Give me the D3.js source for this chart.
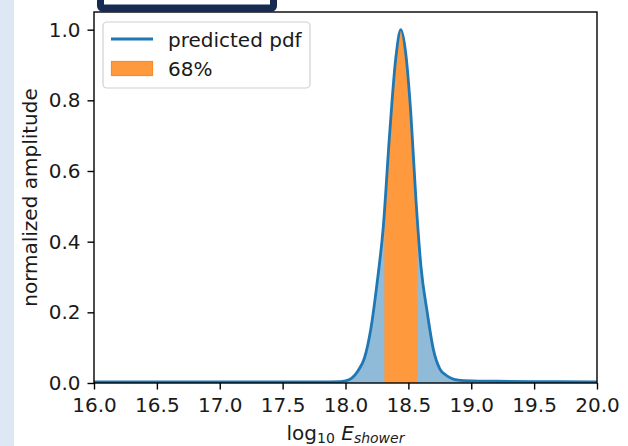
<!DOCTYPE html>
<html><head><meta charset="utf-8">
<script src="https://cdn.jsdelivr.net/npm/d3@7"></script>
<style>html,body{margin:0;padding:0;background:#fff;}svg{display:block;font-family:"DejaVu Sans",sans-serif;}</style>
</head><body>
<svg id="c" width="628" height="446"></svg>
<script>
// data
const energy = [16.0,16.5,17.0,17.5,17.8,17.95,18.0,18.05,18.1,18.15,18.2,18.25,18.3,18.35,18.4,18.44,18.48,18.52,18.56,18.6,18.65,18.7,18.75,18.8,18.85,18.9,19.0,19.2,19.5,20.0];
const amplitude = [0.003,0.003,0.003,0.003,0.003,0.004,0.006,0.014,0.035,0.07,0.15,0.28,0.44,0.70,0.92,1.0,0.93,0.76,0.52,0.33,0.20,0.093,0.04,0.022,0.012,0.008,0.006,0.005,0.004,0.003];
const interval68 = [18.309, 18.571];
const xTicks = [16.0,16.5,17.0,17.5,18.0,18.5,19.0,19.5,20.0];
const yTicks = [0.0,0.2,0.4,0.6,0.8,1.0];
const legendLabels = ["predicted pdf","68%"];

const FS = "20px";
const svg = d3.select("#c");
const L=94, R=597, T=12, B=383;
const x = d3.scaleLinear().domain([16,20]).range([L,R]);
const y = d3.scaleLinear().domain([0,1.05]).range([B,T]);
const pts = energy.map((e,i)=>({e, a: amplitude[i]}));

// background strip
svg.append("rect").attr("x",0).attr("y",0).attr("width",14).attr("height",446).attr("fill","#dde8f4");
// top dark box
svg.append("rect").attr("x",100.5).attr("y",-12).attr("width",173).attr("height",20).attr("rx",2)
  .attr("fill","#fff").attr("stroke","#172a52").attr("stroke-width",7);

const defs = svg.append("defs");
defs.append("clipPath").attr("id","band").append("rect")
  .attr("x",x(interval68[0])).attr("y",T).attr("width",x(interval68[1])-x(interval68[0])).attr("height",B-T);
defs.append("clipPath").attr("id","plot").append("rect").attr("x",L).attr("y",T).attr("width",R-L).attr("height",B-T);

const area = d3.area().x(d=>x(d.e)).y0(y(0)).y1(d=>y(d.a)).curve(d3.curveMonotoneX);
const line = d3.line().x(d=>x(d.e)).y(d=>y(d.a)).curve(d3.curveMonotoneX);

const g = svg.append("g").attr("clip-path","url(#plot)");
g.append("path").datum(pts).attr("d",area).attr("fill","#1f77b4").attr("fill-opacity",0.5);
const gb = g.append("g").attr("clip-path","url(#band)");
gb.append("path").datum(pts).attr("d",area).attr("fill","#ff993e");
g.append("path").datum(pts).attr("d",line).attr("fill","none").attr("stroke","#1f77b4").attr("stroke-width",2.8);

// axes
const xAxis = d3.axisBottom(x).tickValues(xTicks).tickFormat(d3.format(".1f")).tickSize(6.5).tickPadding(8);
const yAxis = d3.axisLeft(y).tickValues(yTicks).tickFormat(d3.format(".1f")).tickSize(6.5).tickPadding(7);
const gx = svg.append("g").attr("transform",`translate(0,${B})`).call(xAxis);
const gy = svg.append("g").attr("transform",`translate(${L},0)`).call(yAxis);
[gx,gy].forEach(a=>{
  a.select(".domain").remove();
  a.selectAll("line").attr("stroke","#000").attr("stroke-width",1.4);
  a.selectAll("text").attr("fill","#1a1a1a").style("font-size",FS).style("font-family","DejaVu Sans");
});
svg.append("rect").attr("x",L).attr("y",T).attr("width",R-L).attr("height",B-T)
  .attr("fill","none").attr("stroke","#000").attr("stroke-width",1.4);

// labels
svg.append("text").attr("transform",`translate(37,${(T+B)/2}) rotate(-90)`).attr("text-anchor","middle")
  .style("font-size",FS).attr("fill","#1a1a1a").text("normalized amplitude");
const xl = svg.append("text").attr("x",(L+R)/2).attr("y",440).attr("text-anchor","middle")
  .style("font-size",FS).attr("fill","#1a1a1a");
xl.append("tspan").text("log");
xl.append("tspan").attr("dy",3).style("font-size","14px").text("10");
xl.append("tspan").attr("dy",-3).text(" ");
xl.append("tspan").style("font-style","italic").text("E");
xl.append("tspan").attr("dy",3).style("font-size","14px").style("font-style","italic").text("shower");

// legend
const lg = svg.append("g");
lg.append("rect").attr("x",103).attr("y",22).attr("width",207).attr("height",66).attr("rx",4)
  .attr("fill","#fff").attr("fill-opacity",0.8).attr("stroke","#d0d0d0").attr("stroke-width",1.2);
lg.append("line").attr("x1",111).attr("x2",153).attr("y1",39).attr("y2",39).attr("stroke","#1f77b4").attr("stroke-width",2.8);
lg.append("rect").attr("x",111.5).attr("y",61.5).attr("width",41).attr("height",14).attr("fill","#ff993e").attr("stroke","#ff8a22").attr("stroke-width",1.2);
lg.append("text").attr("x",168).attr("y",47).style("font-size",FS).attr("fill","#1a1a1a").text(legendLabels[0]);
lg.append("text").attr("x",168).attr("y",76).style("font-size",FS).attr("fill","#1a1a1a").text(legendLabels[1]);
</script>
</body></html>
